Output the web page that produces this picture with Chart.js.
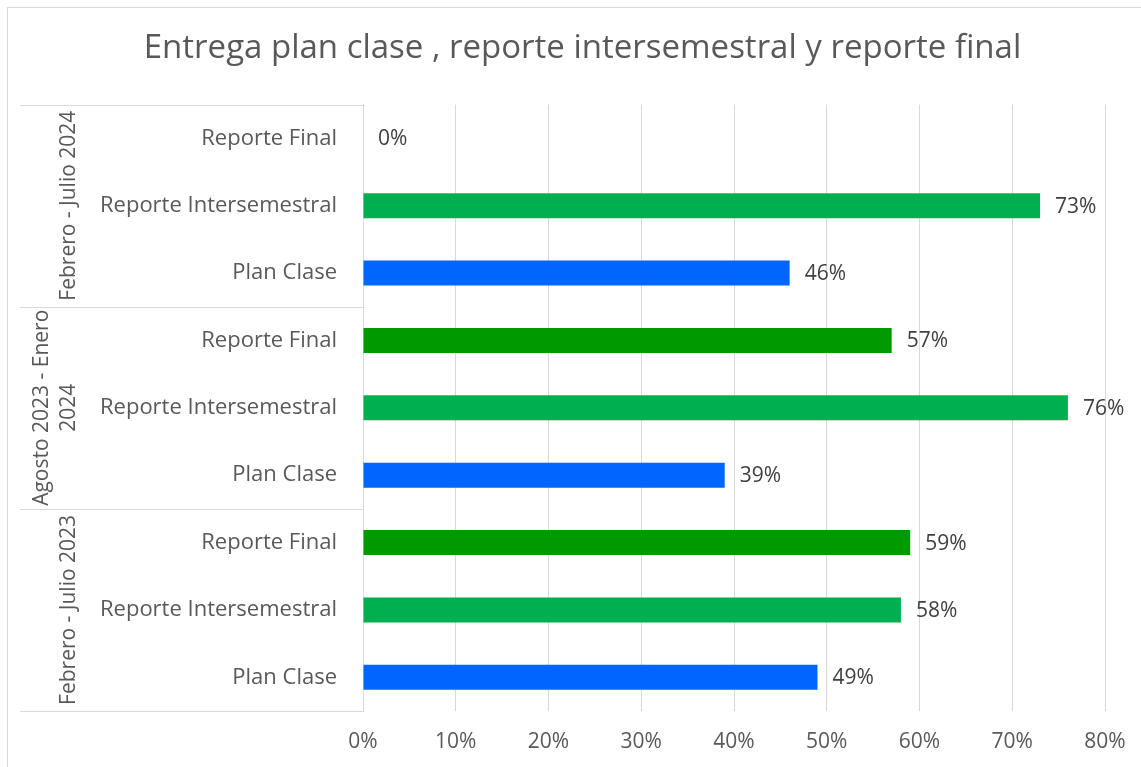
<!DOCTYPE html>
<html>
<head>
<meta charset="utf-8">
<script src="https://cdn.jsdelivr.net/npm/chart.js@4"></script>
<style>
  html, body { margin: 0; padding: 0; background: #fff; overflow: hidden; }
  #wrap { position: relative; width: 1141px; height: 767px; }
  #frame { position: absolute; left: 7px; top: 7px; width: 1200px; height: 800px; border: 1px solid #d9d9d9; box-sizing: border-box; }
  #chart { position: absolute; left: 0; top: 0; }
</style>
</head>
<body>
<div id="wrap">
  <div id="frame"></div>
  <canvas id="chart" width="1141" height="767"></canvas>
</div>
<script>
// groups top to bottom, each holds three rows
const groups = ["Febrero - Julio 2024", "Agosto 2023 - Enero 2024", "Febrero - Julio 2023"];
const groupLines = [["Febrero - Julio 2024"], ["Agosto 2023 - Enero", "2024"], ["Febrero - Julio 2023"]];
const rows = ["Reporte Final", "Reporte Intersemestral", "Plan Clase"];
const valuesFeb2024 = [0, 73, 46];
const valuesAgo2023 = [57, 76, 39];
const valuesFeb2023 = [59, 58, 49];
const rowColors = ["#009a00", "#00b050", "#0066ff"];
const xTicks = [0, 10, 20, 30, 40, 50, 60, 70, 80];

const FONT = "'Open Sans'";

const labels = [];
const values = [];
const colors = [];
[valuesFeb2024, valuesAgo2023, valuesFeb2023].forEach(function (vals) {
  vals.forEach(function (v, i) {
    labels.push(rows[i]);
    values.push(v);
    colors.push(rowColors[i]);
  });
});

// value labels next to the bars
const valueLabels = {
  id: "valueLabels",
  afterDatasetsDraw: function (chart) {
    const ctx = chart.ctx;
    const meta = chart.getDatasetMeta(0);
    ctx.save();
    ctx.font = "21px " + FONT;
    ctx.fillStyle = "#404040";
    ctx.textAlign = "left";
    ctx.textBaseline = "middle";
    meta.data.forEach(function (bar, i) {
      ctx.fillText(values[i] + "%", bar.x + 15, bar.y + 1);
    });
    ctx.restore();
  },
};

// group labels and separator lines on the left
const groupAxis = {
  id: "groupAxis",
  afterDraw: function (chart) {
    const ctx = chart.ctx;
    const y = chart.scales.y;
    const area = chart.chartArea;
    const step = y.getPixelForValue(1) - y.getPixelForValue(0);
    ctx.save();
    ctx.strokeStyle = "#d9d9d9";
    ctx.lineWidth = 1;
    for (let g = 0; g <= groups.length; g++) {
      const py = Math.round(y.getPixelForValue(g * 3) - step / 2) + 0.5;
      ctx.beginPath();
      ctx.moveTo(20, py);
      ctx.lineTo(area.left, py);
      ctx.stroke();
    }
    ctx.font = "21px " + FONT;
    ctx.fillStyle = "#595959";
    ctx.textAlign = "center";
    ctx.textBaseline = "middle";
    groupLines.forEach(function (lines, g) {
      const cy = (y.getPixelForValue(g * 3) + y.getPixelForValue(g * 3 + 2)) / 2;
      lines.forEach(function (t, k) {
        const cx = 69 - (lines.length - 1 - k) * 27;
        ctx.save();
        ctx.translate(cx, cy);
        ctx.rotate(-Math.PI / 2);
        ctx.fillText(t, 0, 0);
        ctx.restore();
      });
    });
    ctx.restore();
  },
};

new Chart(document.getElementById("chart").getContext("2d"), {
  type: "bar",
  data: {
    labels: labels,
    datasets: [
      {
        data: values,
        backgroundColor: colors,
        barPercentage: 0.37,
        categoryPercentage: 1,
      },
    ],
  },
  options: {
    indexAxis: "y",
    responsive: false,
    animation: false,
    layout: {
      padding: { left: 60, right: 36, top: 0, bottom: 0 },
    },
    scales: {
      x: {
        min: 0,
        max: 80,
        afterBuildTicks: function (scale) {
          scale.ticks = xTicks.map(function (v) { return { value: v }; });
        },
        afterFit: function (scale) {
          scale.height = 56;
          scale.paddingLeft = 0;
          scale.paddingRight = 0;
        },
        grid: { color: "#d9d9d9", drawTicks: false },
        border: { display: false },
        ticks: {
          padding: 18,
          color: "#595959",
          font: { family: FONT, size: 21 },
          callback: function (value) {
            return value + "%";
          },
        },
      },
      y: {
        afterFit: function (scale) {
          scale.width = 303;
        },
        grid: { display: false, drawTicks: false },
        border: { display: true, color: "#d9d9d9" },
        ticks: {
          padding: 26,
          color: "#595959",
          font: { family: FONT, size: 22 },
        },
      },
    },
    plugins: {
      legend: { display: false },
      tooltip: { enabled: false },
      title: {
        display: true,
        text: "Entrega plan clase , reporte intersemestral y reporte final",
        color: "#595959",
        font: { family: FONT, size: 33, weight: "normal", lineHeight: 1.2 },
        padding: { top: 29, bottom: 36 },
      },
    },
  },
  plugins: [valueLabels, groupAxis],
});
</script>
</body>
</html>
